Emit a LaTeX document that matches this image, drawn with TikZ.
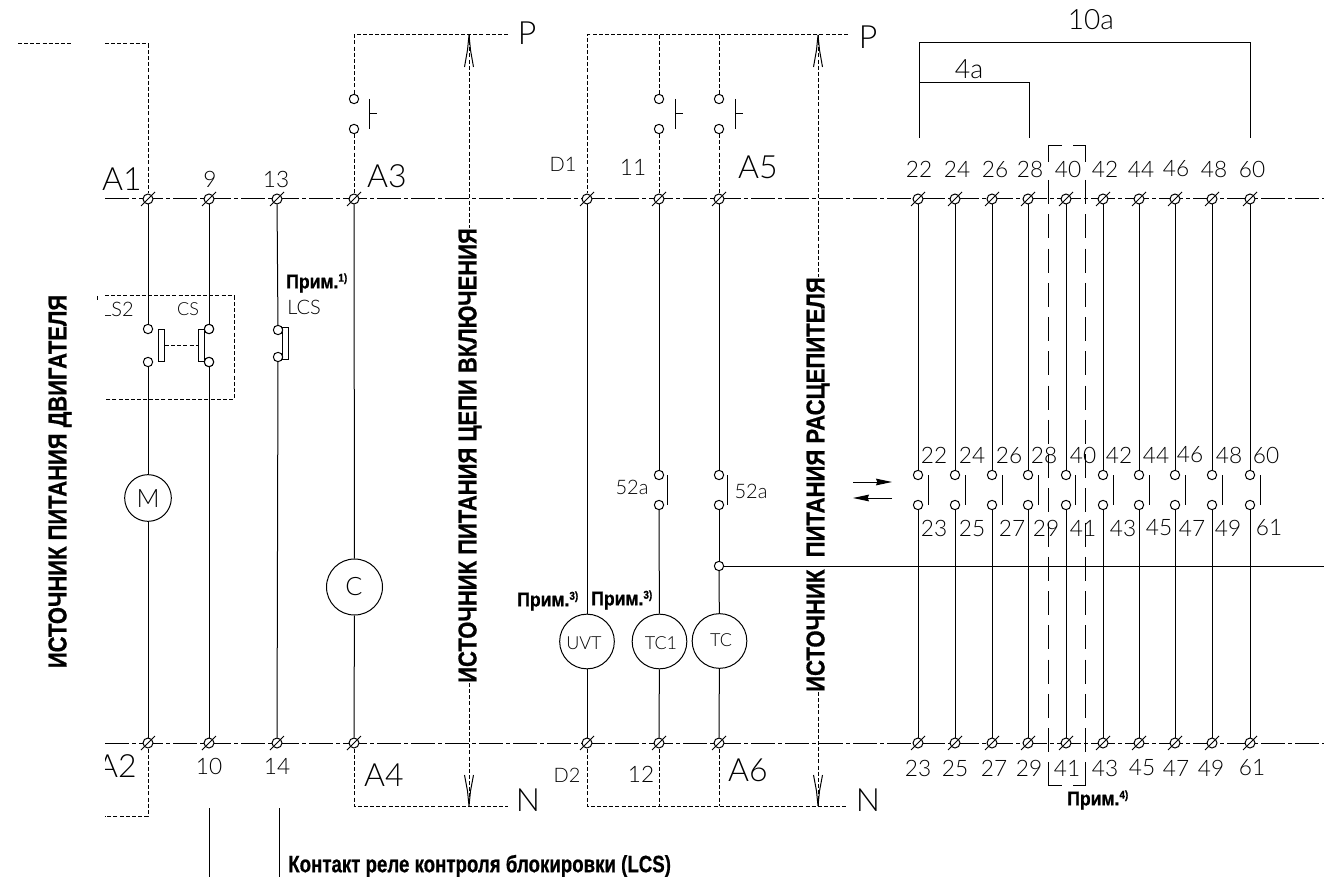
\documentclass[tikz,border=0pt]{standalone}
\usepackage{fontspec}
\setmainfont{Liberation Sans}
\newfontfamily\cadf[UprightFont=* Light]{Lato}
\newfontfamily\hvy[BoldFeatures={FakeBold=0.8}]{Liberation Sans}
\usetikzlibrary{arrows.meta}
\tikzset{
  wire/.style={line width=.75pt,black},
  dash wire/.style={line width=.75pt,black,dash pattern=on 3pt off 1.6pt},
  bus/.style={line width=.75pt,black,dash pattern=on 18pt off 2.5pt on 2.5pt off 2.5pt},
  long dash/.style={line width=.75pt,black,dash pattern=on 18pt off 7.69pt},
  termc/.style={circle,draw,fill=white,line width=.75pt,minimum size=7.5pt,inner sep=0pt},
  cont/.style={circle,draw,fill=white,line width=.75pt,minimum size=7pt,inner sep=0pt},
  load/.style={circle,draw,line width=.75pt,inner sep=0pt},
  txt/.style={inner sep=0pt,font=\cadf,black},
  small/.style={txt,font=\cadf\fontsize{17}{18}\selectfont},
  big/.style={txt,font=\cadf\fontsize{24}{26}\selectfont},
  tiny/.style={txt,font=\cadf\fontsize{13.5}{15}\selectfont},
  mid/.style={txt,font=\cadf\fontsize{15}{16}\selectfont},
  bold note/.style={inner sep=0pt,anchor=west,black},
  open tip/.style={line width=.75pt,black,line join=miter},
  fill tip/.style={-{Stealth[length=12pt,width=5pt,inset=1pt]},line width=.75pt,black}
}
\newcommand\term[3]{\node[termc] (#1) at (#2,#3) {};\draw[wire] (#1.center)+(-7,7) -- +(7,-7);}
\newcommand\note[4]{\node[bold note] (#1) at (#2,#3) {\scalebox{.88}[1]{\fontsize{15}{16}\selectfont\hvy\bfseries Прим.\raisebox{5pt}{\fontsize{8.5}{9}\selectfont #4)}}};}
\begin{document}
\begin{tikzpicture}[x=0.75pt,y=-0.75pt]
\useasboundingbox (0,0) rectangle (1324,877);
% buses
\coordinate (bus1l) at (105,199); \coordinate (bus1r) at (1324,199);
\coordinate (bus2l) at (105,743); \coordinate (bus2r) at (1324,743);
\draw[bus] (bus1l) -- (bus1r);
\draw[bus] (bus2l) -- (bus2r);
% terminals
\foreach \n/\x in {a/148,b/209,c/277,d/354,e/587,f/659,g/719,r1/918,r2/955,r3/992,r4/1028,r5/1066,r6/1103,r7/1139,r8/1175,r9/1212,r10/1250}{
  \term{\n t}{\x}{199}\term{\n b}{\x}{743}
}
% column 148 motor
\node[cont] (ac1) at (148,329) {};
\node[cont] (ac2) at (148,362) {};
\node[load,minimum size=35pt] (mot) at (148,498) {};
\node[txt,font=\cadf\fontsize{19}{20}\selectfont] (motl) at (148,499) {M};
\draw[wire] (at) -- (ac1);
\draw[wire] (ac2) -- (mot);
\draw[wire] (mot) -- (ab);
% column 209
\node[cont] (bc1) at (209,329) {};
\node[cont] (bc2) at (209,362) {};
\draw[wire] (bt) -- (bc1);
\draw[wire] (bc2) -- (bb);
\node[draw,line width=.75pt,minimum width=4.5pt,minimum height=24pt,inner sep=0pt] (ls) at (161.5,345) {};
\node[draw,line width=.75pt,minimum width=4.5pt,minimum height=24pt,inner sep=0pt] (cs) at (201,345) {};
\draw[dash wire] (ls) -- (cs);
\node[cont] at (bc1) {};
\node[cont] at (bc2) {};
% column 277
\node[draw,line width=.75pt,minimum width=4pt,minimum height=24pt,inner sep=0pt] (lcsb) at (285.5,343) {};
\node[cont] (cc1) at (278,330) {};
\node[cont] (cc2) at (278,357) {};
\draw[wire] (ct) -- (cc1);
\draw[wire] (cc2) -- (cb);
% dashed box
\coordinate (bx1) at (105,296); \coordinate (bx2) at (234,296);
\coordinate (bx3) at (234,399); \coordinate (bx4) at (105,399);
\draw[dash wire] (bx1) -- (bx2) -- (bx3) -- (bx4);
\coordinate (tk1) at (97,296); \coordinate (tk2) at (97,300);
\draw[wire] (tk1) -- (tk2);
% motor supply
\coordinate (ms1) at (105,44); \coordinate (ms2) at (148,44);
\coordinate (ms3) at (105,816); \coordinate (ms4) at (148,816);
\coordinate (ms5) at (18,44); \coordinate (ms6) at (72,44);
\draw[dash wire] (ms5) -- (ms6);
\draw[dash wire] (ms1) -- (ms2) -- (at);
\draw[dash wire] (ab) -- (ms4) -- (ms3);
% column 354
\node[cont] (dc1) at (354,99) {};
\node[cont] (dc2) at (354,129) {};
\node[load,minimum size=42pt] (cl) at (354.5,587) {};
\node[txt,font=\cadf\fontsize{19}{20}\selectfont] (cll) at (354,587) {C};
\coordinate (p1a) at (354,35); \coordinate (p1b) at (508,35);
\coordinate (n1a) at (354,806); \coordinate (n1b) at (508,806);
\draw[dash wire] (p1b) -- (p1a) -- (dc1);
\draw[dash wire] (dc2) -- (dt);
\draw[wire] (dt) -- (cl);
\draw[wire] (cl) -- (db);
\draw[dash wire] (db) -- (n1a) -- (n1b);
% pushbuttons
\foreach \n/\x/\y in {pb1/369/114,pb2/675/114,pb3/735/114}{
  \coordinate (\n u) at (\x,99); \coordinate (\n d) at (\x,129); \coordinate (\n m) at (\x,\y); \coordinate (\n e) at (\x+8,\y);
  \draw[wire] (\n u) -- (\n d); \draw[wire] (\n m) -- (\n e);
}
% supply arrows
\foreach \n/\x/\ya/\yb in {s1/469/228/683,s2/818/277/692}{
  \coordinate (\n top) at (\x,35); \coordinate (\n tt) at (\x,\ya);
  \coordinate (\n bot) at (\x,806); \coordinate (\n bb) at (\x,\yb);
  \draw[dash wire] (\n top) -- (\n tt);
  \draw[dash wire] (\n bb) -- (\n bot);
  \draw[open tip] (\x-4.5,67) -- (\x-1.5,50) -- (\x,35) -- (\x+1.5,50) -- (\x+4.5,67);
  \draw[open tip] (\x-4.5,775) -- (\x-1.5,791) -- (\x,806) -- (\x+1.5,791) -- (\x+4.5,775);
}
% trip columns
\node[load,minimum size=41pt] (uvt) at (587,641.5) {};
\node[cont] (fc1) at (659,99) {};
\node[cont] (fc2) at (659,129) {};
\node[cont] (gc1) at (719,99) {};
\node[cont] (gc2) at (719,129) {};
\node[cont] (fc3) at (659,475) {};
\node[cont] (fc4) at (659,505) {};
\node[cont] (gc3) at (719,475) {};
\node[cont] (gc4) at (719,505) {};
\node[cont] (jn) at (719,566) {};
\node[load,minimum size=41pt] (tc1) at (659.5,641.5) {};
\node[load,minimum size=41pt] (tc) at (719.5,641) {};
\coordinate (p2a) at (587,35); \coordinate (p2b) at (848,35);
\coordinate (p2f) at (659,35); \coordinate (p2g) at (719,35);
\coordinate (n2a) at (587,806); \coordinate (n2b) at (848,806);
\coordinate (n2f) at (659,806); \coordinate (n2g) at (719,806);
\coordinate (jr) at (1324,566);
\draw[dash wire] (p2b) -- (p2a) -- (et);
\draw[dash wire] (p2f) -- (fc1);
\draw[dash wire] (p2g) -- (gc1);
\draw[dash wire] (fc2) -- (ft);
\draw[dash wire] (gc2) -- (gt);
\draw[wire] (et) -- (uvt);
\draw[wire] (uvt) -- (eb);
\draw[wire] (ft) -- (fc3);
\draw[wire] (fc4) -- (tc1);
\draw[wire] (tc1) -- (fb);
\draw[wire] (gt) -- (gc3);
\draw[wire] (gc4) -- (jn);
\draw[wire] (jn) -- (tc);
\draw[wire] (tc) -- (gb);
\draw[wire] (jn) -- (jr);
\draw[dash wire] (eb) -- (n2a) -- (n2b);
\draw[dash wire] (fb) -- (n2f);
\draw[dash wire] (gb) -- (n2g);
\coordinate (b52l1) at (667,475); \coordinate (b52l2) at (667,505);
\coordinate (b52r1) at (727,475); \coordinate (b52r2) at (727,505);
\draw[wire] (b52l1) -- (b52l2);
\draw[wire] (b52r1) -- (b52r2);
% right contact columns
\foreach \n/\x/\bar in {r1/918/928,r2/955/965,r3/992/1002,r4/1028/1038,r5/1066/1075,r6/1103/1113,r7/1139/1149,r8/1175/1185,r9/1212/1222,r10/1250/1260}{
  \node[cont] (\n u) at (\x,475) {};
  \node[cont] (\n d) at (\x,505) {};
  \draw[wire] (\n t) -- (\n u);
  \draw[wire] (\n d) -- (\n b);
  \coordinate (\n x) at (\bar,475); \coordinate (\n y) at (\bar,505);
  \draw[wire] (\n x) -- (\n y);
}
% dimension brackets
\coordinate (d1a) at (919,138); \coordinate (d1b) at (919,43); \coordinate (d1c) at (1250,43); \coordinate (d1d) at (1250,138);
\coordinate (d2a) at (919,83); \coordinate (d2b) at (1029,83); \coordinate (d2c) at (1029,138);
\draw[wire] (d1a) -- (d1b) -- (d1c) -- (d1d);
\draw[wire] (d2a) -- (d2b) -- (d2c);
% option bracket 40/41
\foreach \n/\x/\s in {ol/1048/1062,or/1085/1073}{
  \coordinate (\n a) at (\s,146); \coordinate (\n b) at (\x,146); \coordinate (\n c) at (\x,162);
  \coordinate (\n d) at (\x,180); \coordinate (\n e) at (\x,752);
  \coordinate (\n f) at (\x,762); \coordinate (\n g) at (\x,785); \coordinate (\n h) at (\s,785);
  \draw[wire] (\n a) -- (\n b) -- (\n c);
  \draw[long dash] (\n d) -- (\n e);
  \draw[wire] (\n f) -- (\n g) -- (\n h);
}
% motion arrows
\coordinate (ar1a) at (853,482); \coordinate (ar1b) at (892,482);
\coordinate (ar2a) at (892,498); \coordinate (ar2b) at (853,498);
\draw[fill tip] (ar1a) -- (ar1b);
\draw[fill tip] (ar2a) -- (ar2b);
% lower wires
\coordinate (lw1a) at (209,808); \coordinate (lw1b) at (209,877);
\coordinate (lw2a) at (279,808); \coordinate (lw2b) at (279,877);
\draw[wire] (lw1a) -- (lw1b);
\draw[wire] (lw2a) -- (lw2b);
% clipped labels
\begin{scope}
\clip (105,290) rectangle (140,330);
\node[mid] (lsl) at (117.5,309) {LS2};
\end{scope}
\begin{scope}
\clip (105,745) rectangle (140,790);
\node[big] (a2l) at (117,766) {A2};
\end{scope}
% labels
\node[big] (a1l) at (122,179) {A1};
\node[big] (a3l) at (387,176) {A3};
\node[big] (a5l) at (758,167) {A5};
\node[big] (a4l) at (384,775) {A4};
\node[big] (a6l) at (748,770) {A6};
\node[big] (p1l) at (527,33) {P};
\node[big] (p2l) at (868,37) {P};
\node[big] (n1l) at (528,800) {N};
\node[big] (n2l) at (868,800) {N};
\node[small] (l9) at (210,179) {9};
\node[small] (l13) at (276,179) {13};
\node[small] (l10) at (209,766) {10};
\node[small] (l14) at (277,766) {14};
\node[mid] (ld1) at (563,164) {D1};
\node[mid] (ld2) at (567,775) {D2};
\node[small] (l11) at (633,167) {11};
\node[small] (l12) at (641,774) {12};
\node[tiny] (lcs) at (188,309) {CS};
\node[mid] (llcs) at (304,307) {LCS};
\node[mid] (l52a) at (632,487) {52a};
\node[mid] (l52b) at (751,491) {52a};
\node[tiny] (luvt) at (584,643) {UVT};
\node[tiny] (ltc1) at (661,643) {TC1};
\node[tiny] (ltc) at (721,640) {TC};
\node[txt,font=\cadf\fontsize{21}{22}\selectfont] (l10a) at (1091,20) {10a};
\node[txt,font=\cadf\fontsize{20}{22}\selectfont] (l4a) at (969,69) {4a};
\foreach \t/\x in {22/919,24/957,26/995,28/1030,40/1068,42/1105,44/1141,46/1176,48/1214,60/1252}{\node[small] (tt\t) at (\x,169) {\t};}
\foreach \t/\x in {23/918,25/955,27/994,29/1029,41/1067,43/1105,45/1142,47/1176,49/1211,61/1252}{\node[small] (bb\t) at (\x,768) {\t};}
\foreach \t/\x in {22/934,24/972,26/1009,28/1044,40/1083,42/1119,44/1156,46/1190,48/1229,60/1266}{\node[small] (mu\t) at (\x,455) {\t};}
\foreach \t/\x in {23/934,25/972,27/1012,29/1046,41/1083,43/1123,45/1159,47/1192,49/1228,61/1269}{\node[small] (md\t) at (\x,528) {\t};}
% notes
\note{n1}{286}{283}{1}
\note{n3a}{517}{601}{3}
\note{n3b}{591}{600}{3}
\note{n4}{1067}{800}{4}
% vertical titles
\node[rotate=90,inner sep=0pt] (v1) at (60,481.5) {\resizebox{280pt}{13.5pt}{\hvy\bfseries ИСТОЧНИК ПИТАНИЯ ДВИГАТЕЛЯ}};
\node[rotate=90,inner sep=0pt] (v2) at (470,455.5) {\resizebox{341pt}{13.5pt}{\hvy\bfseries ИСТОЧНИК ПИТАНИЯ ЦЕПИ ВКЛЮЧЕНИЯ}};
\node[rotate=90,inner sep=0pt] (v3) at (818,484.5) {\resizebox{311pt}{13.5pt}{\hvy\bfseries ИСТОЧНИК\ \ ПИТАНИЯ РАСЦЕПИТЕЛЯ}};
\node[inner sep=0pt,anchor=west] (bt) at (288,866) {\resizebox{287pt}{13pt}{\hvy\bfseries Контакт реле контроля блокировки (LCS)}};
\end{tikzpicture}
\end{document}
